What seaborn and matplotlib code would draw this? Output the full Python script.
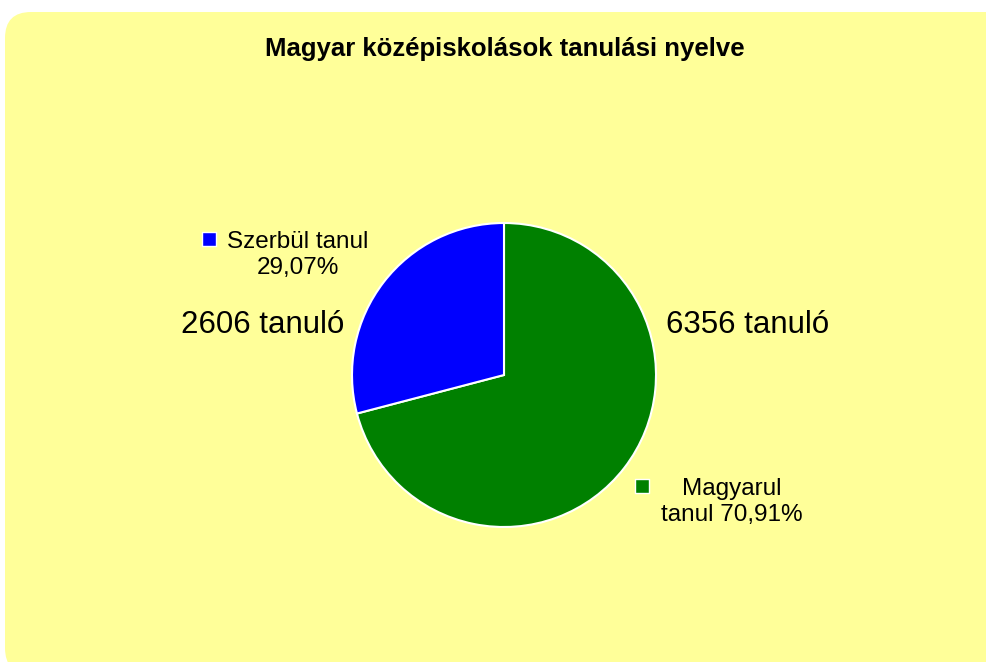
import numpy as np
import matplotlib
matplotlib.use("Agg")
import matplotlib.pyplot as plt
from matplotlib.patches import FancyBboxPatch
import seaborn as sns

# data
labels = ["Magyarul tanul", "Szerbül tanul"]
students = [6356, 2606]
pct_labels = ["70,91%", "29,07%"]
title = "Magyar középiskolások tanulási nyelve"

sns.set_theme(style="white", rc={"text.color": "black"})
plt.rcParams['font.family'] = ['Liberation Sans', 'DejaVu Sans']
colors = sns.color_palette(["#008000", "#0000FF"])

W, H = 987, 662
fig = plt.figure(figsize=(W / 100, H / 100), dpi=100)
fig.patch.set_facecolor("white")
ax = fig.add_axes([0, 0, 1, 1])
ax.set_axis_off()

# yellow rounded panel (pixel coords, y from bottom), top edge at y=12
bg = FancyBboxPatch((5, -12), 1020, H - 12 + 12,
                    boxstyle="round,pad=0,rounding_size=26",
                    facecolor="#FFFF99", edgecolor="none", zorder=0)
ax.add_patch(bg)

# pie: top start, clockwise, green first
cx, cy, r = 504, H - 375, 152
ax.pie(students, colors=colors, startangle=90, counterclock=False,
       center=(cx, cy), radius=r,
       wedgeprops=dict(edgecolor="white", linewidth=1.5))

ax.set_xlim(0, W)
ax.set_ylim(0, H)
ax.set_aspect("equal")

ax.text(505, H - 49, title, ha="center", va="center",
        fontsize=18.5, fontweight="bold", color="black")

# labels
ax.text(298, H - 255, labels[1] + "\n" + pct_labels[1], ha="center",
        va="center", fontsize=17.5, linespacing=1.25, color="black")
ax.scatter([209], [H - 239], s=110, marker="s", color=colors[1],
           edgecolors="white", linewidths=1, zorder=5)

ax.text(732, H - 502, "Magyarul\ntanul " + pct_labels[0], ha="center",
        va="center", fontsize=17.5, linespacing=1.25, color="black")
ax.scatter([642], [H - 486], s=110, marker="s", color=colors[0],
           edgecolors="white", linewidths=1, zorder=5)

ax.text(263, H - 325, f"{students[1]} tanuló", ha="center", va="center",
        fontsize=22.5, color="black")
ax.text(748, H - 325, f"{students[0]} tanuló", ha="center", va="center",
        fontsize=22.5, color="black")

fig.savefig("out.png", dpi=100)
